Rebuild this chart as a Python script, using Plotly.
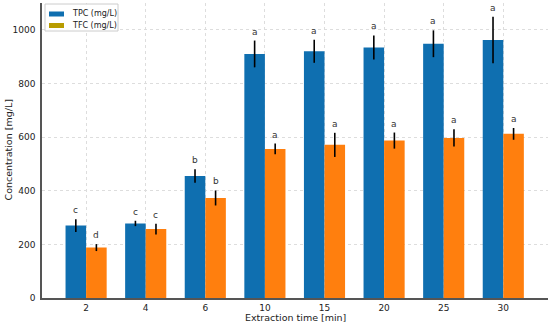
import plotly.graph_objects as go

categories = ["2", "4", "6", "10", "15", "20", "25", "30"]
tpc = [270, 278, 455, 910, 920, 934, 948, 962]
tpc_err = [24, 10, 25, 50, 43, 45, 50, 87]
tfc = [188, 257, 373, 556, 571, 587, 597, 612]
tfc_err = [13, 20, 28, 20, 45, 30, 32, 22]
tpc_letters = ["c", "c", "b", "a", "a", "a", "a", "a"]
tfc_letters = ["d", "c", "b", "a", "a", "a", "a", "a"]
legend_labels = ["TPC (mg/L)", "TFC (mg/L)"]

BLUE = "#0f6fb0"
ORANGE = "#ff7f0e"
LEG_TFC = "#b89c00"
W = 0.345

# plot area in pixels
L, R, T, B = 42, 2, 3, 28
FW, FH = 550, 326
PW, PH = FW - L - R, FH - T - B


def px(x):
    return (x - L) / PW


def py(y):
    return 1 - (y - T) / PH


fig = go.Figure()
fig.add_trace(go.Bar(x=categories, y=tpc, width=W, offset=-W, marker=dict(color=BLUE, line=dict(width=0)),
                     error_y=dict(type="data", array=tpc_err, color="black", thickness=1.6, width=0),
                     showlegend=False, name=legend_labels[0]))
fig.add_trace(go.Bar(x=categories, y=tfc, width=W, offset=0, marker=dict(color=ORANGE, line=dict(width=0)),
                     error_y=dict(type="data", array=tfc_err, color="black", thickness=1.6, width=0),
                     showlegend=False, name=legend_labels[1]))

for i, c in enumerate(categories):
    fig.add_annotation(x=i - W / 2, y=tpc[i] + tpc_err[i], text=tpc_letters[i], showarrow=False,
                       yanchor="bottom", yshift=2, font=dict(size=9, color="#333"))
    fig.add_annotation(x=i + W / 2, y=tfc[i] + tfc_err[i], text=tfc_letters[i], showarrow=False,
                       yanchor="bottom", yshift=2, font=dict(size=9, color="#333"))

# axis titles
fig.add_annotation(text="Extraction time [min]", xref="paper", yref="paper", x=0.5, y=0,
                   xanchor="center", yanchor="middle", yshift=-19.5, showarrow=False,
                   font=dict(size=9.5, color="#222"))
fig.add_annotation(text="Concentration [mg/L]", xref="paper", yref="paper", x=0, y=0.5,
                   xanchor="center", yanchor="middle", xshift=-34, textangle=-90, showarrow=False,
                   font=dict(size=9.5, color="#222"))

# manual legend box
fig.add_shape(type="rect", xref="paper", yref="paper", x0=px(45), x1=px(118), y0=py(31), y1=py(4),
              line=dict(color="#cccccc", width=1), fillcolor="rgba(255,255,255,0.9)", layer="above")
for k, (lab, col) in enumerate(zip(legend_labels, [BLUE, LEG_TFC])):
    yc = 14 + k * 11.5
    fig.add_shape(type="rect", xref="paper", yref="paper", x0=px(49), x1=px(64), y0=py(yc + 2.5), y1=py(yc - 2.5),
                  line=dict(width=0), fillcolor=col, layer="above")
    fig.add_annotation(text=lab, xref="paper", yref="paper", x=px(70), y=py(yc), xanchor="left",
                       yanchor="middle", showarrow=False, font=dict(size=8, color="#222"))

fig.update_layout(
    width=FW, height=FH,
    margin=dict(l=L, r=R, t=T, b=B, autoexpand=False),
    barmode="overlay", showlegend=False,
    plot_bgcolor="white", paper_bgcolor="white",
    font=dict(family="DejaVu Sans", size=9, color="#222"),
    xaxis=dict(type="category", range=[-0.74, 7.75], automargin=False,
               showgrid=True, gridcolor="#dddddd", griddash="dot", gridwidth=1,
               showline=True, linecolor="#555555", linewidth=1.5,
               ticks="", ticklabelstandoff=0, tickfont=dict(size=9)),
    yaxis=dict(range=[0, 1100], tickvals=[0, 200, 400, 600, 800, 1000], automargin=False,
               showgrid=True, gridcolor="#dddddd", griddash="dot", gridwidth=1,
               showline=True, linecolor="#555555", linewidth=1.5, zeroline=False,
               ticks="", ticklabelstandoff=3, tickfont=dict(size=9)),
)

fig.write_html("out.html", config={"displayModeBar": False},
               post_script="document.body.style.margin='0';document.body.style.overflow='hidden';")
